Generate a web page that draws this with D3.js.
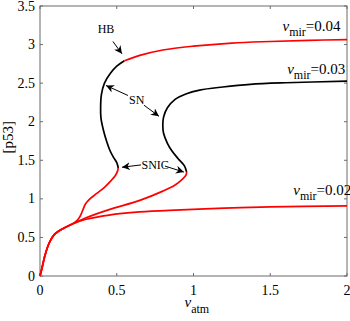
<!DOCTYPE html>
<html><head><meta charset="utf-8">
<script src="https://cdn.jsdelivr.net/npm/d3@7"></script>
<style>body{margin:0;background:#fff}svg{display:block}</style>
</head><body><svg id="c" width="350" height="321" font-family="'Liberation Serif', 'DejaVu Serif', serif"></svg>
<script>
const xTicks = [0, 0.5, 1, 1.5, 2];
const yTicks = [0, 0.5, 1, 1.5, 2, 2.5, 3, 3.5];
const xTickLabels = ["0", "0.5", "1", "1.5", "2"];
const yTickLabels = ["0", "0.5", "1", "1.5", "2", "2.5", "3", "3.5"];
const base = [[0,0],[0.015,0.12],[0.03,0.25],[0.05,0.38],[0.065,0.45],[0.09,0.53],[0.12,0.58],[0.16,0.625],[0.2,0.665]];
// v_mir = 0.04
const mir04StableLow = base.concat([[0.23,0.70],[0.25,0.74],[0.265,0.79],[0.28,0.86],[0.295,0.93],[0.32,0.99],[0.37,1.07],[0.42,1.15],[0.46,1.23],[0.49,1.3],[0.505,1.36],[0.51,1.40]]);
const mir04Unstable = [[0.51,1.40],[0.5,1.47],[0.478,1.54],[0.455,1.63],[0.435,1.74],[0.412,1.9],[0.397,2.05],[0.395,2.2],[0.40,2.35],[0.42,2.5],[0.46,2.63],[0.5,2.72],[0.55,2.79]];
const mir04StableHigh = [[0.55,2.79],[0.65,2.86],[0.8,2.93],[1.0,2.98],[1.25,3.02],[1.5,3.04],[1.75,3.055],[2,3.065]];
// v_mir = 0.03
const mir03Stable = base.concat([[0.3,0.755],[0.45,0.86],[0.65,0.98],[0.8,1.1],[0.88,1.18],[0.93,1.26],[0.952,1.31],[0.955,1.35]]);
const mir03Unstable = [[0.955,1.35],[0.94,1.43],[0.9,1.52],[0.86,1.62],[0.83,1.72],[0.805,1.85],[0.8,1.95],[0.805,2.06],[0.83,2.18],[0.88,2.29],[0.95,2.36],[1.04,2.41],[1.19,2.45],[1.37,2.485],[1.6,2.505],[2,2.525]];
// v_mir = 0.02
const mir02Stable = base.concat([[0.3,0.735],[0.45,0.79],[0.65,0.83],[0.88,0.855],[1.2,0.88],[1.5,0.895],[2,0.91]]);
const seriesLabels = [{val:"=0.04", x:1.58, y:3.17},{val:"=0.03", x:1.61, y:2.62},{val:"=0.02", x:1.65, y:1.05}];
const annotations = [
  {text:"HB", x:0.43, y:3.15, arrows:[[[0.475,3.04],[0.534,2.88]]]},
  {text:"SN", x:0.63, y:2.23, arrows:[[[0.573,2.34],[0.43,2.47]],[[0.677,2.215],[0.775,2.07]]]},
  {text:"SNIC", x:0.75, y:1.386, arrows:[[[0.658,1.44],[0.534,1.41]],[[0.814,1.425],[0.9375,1.347]]]}
];

const svg = d3.select("#c");
const m = {l:40, r:3, t:6, b:45};
const W = 350, H = 321;
const x = d3.scaleLinear().domain([0,2]).range([m.l, W-m.r]);
const y = d3.scaleLinear().domain([0,3.5]).range([H-m.b, m.t]);
const axisCol = "#6b6b6b";

svg.append("defs").append("marker").attr("id","ah").attr("viewBox","0 0 10 10").attr("refX",10).attr("refY",5)
  .attr("markerWidth",8).attr("markerHeight",8).attr("markerUnits","userSpaceOnUse").attr("orient","auto")
  .append("path").attr("d","M0,0 L10,5 L0,10 L3,5 Z").attr("fill","#000");

const ax = svg.append("g");
ax.append("rect").attr("x",x(0)).attr("y",y(3.5)).attr("width",x(2)-x(0)).attr("height",y(0)-y(3.5))
  .attr("fill","none").attr("stroke",axisCol).attr("stroke-width",1);
const tl = 3;
xTicks.forEach((t,i)=>{
  ax.append("line").attr("x1",x(t)).attr("x2",x(t)).attr("y1",y(0)).attr("y2",y(0)-tl).attr("stroke",axisCol);
  ax.append("line").attr("x1",x(t)).attr("x2",x(t)).attr("y1",y(3.5)).attr("y2",y(3.5)+tl).attr("stroke",axisCol);
  ax.append("text").attr("x",x(t)).attr("y",y(0)+19).attr("text-anchor","middle").attr("font-size",14).text(xTickLabels[i]);
});
yTicks.forEach((t,i)=>{
  ax.append("line").attr("x1",x(0)).attr("x2",x(0)+tl).attr("y1",y(t)).attr("y2",y(t)).attr("stroke",axisCol);
  ax.append("line").attr("x1",x(2)).attr("x2",x(2)-tl).attr("y1",y(t)).attr("y2",y(t)).attr("stroke",axisCol);
  ax.append("text").attr("x",x(0)-5).attr("y",y(t)+4.5).attr("text-anchor","end").attr("font-size",14).text(yTickLabels[i]);
});
const xl = svg.append("text").attr("x",x(1)-9).attr("y",H-14).attr("font-size",15);
xl.append("tspan").attr("font-style","italic").text("v");
xl.append("tspan").attr("dy",6).attr("font-size",12).text("atm");
svg.append("text").attr("transform",`translate(13,${y(1.8)})rotate(-90)`).attr("text-anchor","middle").attr("font-size",15).text("[p53]");

const line = d3.line().x(d=>x(d[0])).y(d=>y(d[1])).curve(d3.curveCatmullRom.alpha(0.5));
const curves = [
  [mir02Stable,"#ff0000"],[mir03Stable,"#ff0000"],[mir04StableLow,"#ff0000"],
  [mir03Unstable,"#000"],[mir04Unstable,"#000"],[mir04StableHigh,"#ff0000"]
];
svg.append("g").selectAll("path").data(curves).join("path")
  .attr("d",d=>line(d[0])).attr("fill","none").attr("stroke",d=>d[1]).attr("stroke-width",1.7);

seriesLabels.forEach(s=>{
  const t = svg.append("text").attr("x",x(s.x)).attr("y",y(s.y)).attr("font-size",15);
  t.append("tspan").attr("font-style","italic").text("v");
  t.append("tspan").attr("dy",5).attr("font-size",12).text("mir");
  t.append("tspan").attr("dy",-5).text(s.val);
});
annotations.forEach(a=>{
  svg.append("text").attr("x",x(a.x)).attr("y",y(a.y)).attr("text-anchor","middle").attr("font-size",12).text(a.text);
  a.arrows.forEach(ar=>{
    svg.append("line").attr("x1",x(ar[0][0])).attr("y1",y(ar[0][1])).attr("x2",x(ar[1][0])).attr("y2",y(ar[1][1]))
      .attr("stroke","#000").attr("stroke-width",1).attr("marker-end","url(#ah)");
  });
});
</script></body></html>
